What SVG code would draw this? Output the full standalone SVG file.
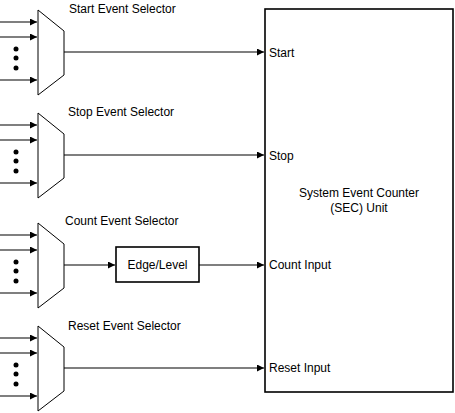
<svg xmlns="http://www.w3.org/2000/svg" width="455" height="413" viewBox="0 0 455 413">
<style>
text{font-family:"Liberation Sans",Arial,sans-serif;font-size:12px;fill:#000}
.mux{fill:#fff;stroke:#000;stroke-width:1}
.ln{stroke:#000;stroke-width:1.2;fill:none}
.box{fill:#fff;stroke:#000;stroke-width:1.6}
</style>
<defs>
<marker id="ah" markerWidth="8" markerHeight="8" refX="7" refY="3.5" orient="auto" markerUnits="userSpaceOnUse">
<path d="M0,0 L7,3.5 L0,7 Z" fill="#000"/>
</marker>
<g id="muxin">
<line class="ln" x1="0" y1="12" x2="37" y2="12" marker-end="url(#ah)"/>
<line class="ln" x1="0" y1="27" x2="37" y2="27" marker-end="url(#ah)"/>
<line class="ln" x1="0" y1="70" x2="37" y2="70" marker-end="url(#ah)"/>
<circle cx="16" cy="39" r="2.5" fill="#000"/>
<circle cx="16" cy="48" r="2.5" fill="#000"/>
<circle cx="16" cy="58" r="2.5" fill="#000"/>
<path class="mux" d="M38,0 L64,21 L64,65 L38,85 Z"/>
</g>
</defs>
<g id="sec">
<rect class="box" x="265" y="9" width="188" height="383"/>
<text x="359" y="197" text-anchor="middle">System Event Counter</text>
<text x="359" y="212" text-anchor="middle">(SEC) Unit</text>
<text x="269" y="57">Start</text>
<text x="269" y="160">Stop</text>
<text x="269" y="269">Count Input</text>
<text x="269" y="372">Reset Input</text>
</g>
<g id="start-selector">
<use href="#muxin" x="0" y="10"/>
<text x="69" y="13">Start Event Selector</text>
</g>
<g id="stop-selector">
<use href="#muxin" x="0" y="113"/>
<text x="68" y="116">Stop Event Selector</text>
</g>
<g id="count-selector">
<use href="#muxin" x="0" y="223"/>
<text x="65" y="225">Count Event Selector</text>
</g>
<g id="reset-selector">
<use href="#muxin" x="0" y="326"/>
<text x="68" y="330">Reset Event Selector</text>
</g>
<g id="edge-level">
<rect class="box" x="116" y="247" width="83" height="35"/>
<text x="157.5" y="269" text-anchor="middle">Edge/Level</text>
</g>
<g id="connectors">
<line class="ln" x1="64" y1="52" x2="264" y2="52" marker-end="url(#ah)"/>
<line class="ln" x1="64" y1="155" x2="264" y2="155" marker-end="url(#ah)"/>
<line class="ln" x1="64" y1="265" x2="115" y2="265" marker-end="url(#ah)"/>
<line class="ln" x1="199" y1="265" x2="264" y2="265" marker-end="url(#ah)"/>
<line class="ln" x1="64" y1="368" x2="264" y2="368" marker-end="url(#ah)"/>
</g>
</svg>
